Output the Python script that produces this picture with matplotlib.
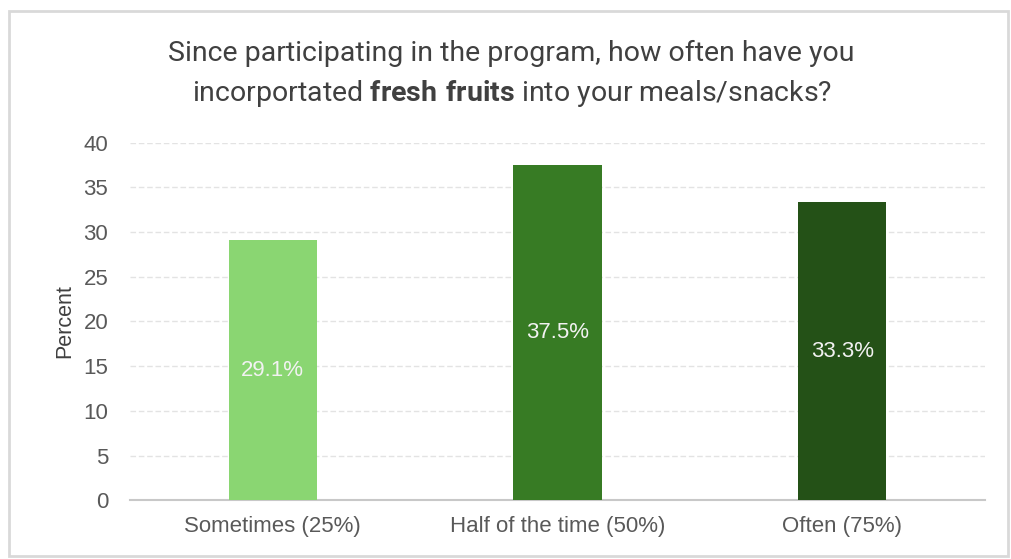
import matplotlib.pyplot as plt
from matplotlib.patches import Rectangle

categories = ['Sometimes (25%)', 'Half of the time (50%)', 'Often (75%)']
percent = [29.1, 37.5, 33.3]
bar_colors = ['#8ad672', '#377b24', '#245117']
yticks = [0, 5, 10, 15, 20, 25, 30, 35, 40]

plt.rcParams['font.family'] = ['Liberation Sans', 'DejaVu Sans']
plt.rcParams['mathtext.fontset'] = 'custom'
plt.rcParams['mathtext.rm'] = 'Roboto'
plt.rcParams['mathtext.bf'] = 'Roboto:bold'

fig = plt.figure(figsize=(10.11, 5.59), dpi=100, facecolor='w')

# thin grey frame round the whole chart
fig.patches.append(Rectangle((0.009, 0.005), 0.988, 0.975, transform=fig.transFigure,
                             fill=False, edgecolor='#d9d9d9', linewidth=2.0))

ax = fig.add_axes([0.129, 0.105, 0.845, 0.64])
x = range(len(categories))
ax.bar(x, percent, width=0.31, color=bar_colors, zorder=3)

for i, v in enumerate(percent):
    ax.text(i, v / 2, f'{v}%', ha='center', va='center', color='#f2f2f2',
            fontsize=16, zorder=4)

ax.set_xlim(-0.5, 2.5)
ax.set_ylim(0, 40)
ax.set_yticks(yticks)
ax.set_xticks(list(x))
ax.set_xticklabels(categories)
ax.tick_params(axis='both', length=0, labelsize=16, labelcolor='#595959')
ax.tick_params(axis='x', pad=11)
ax.tick_params(axis='y', pad=16)
ax.yaxis.grid(True, linestyle=(0, (4, 2)), color='#e3e3e3', linewidth=1.0, zorder=0)
ax.set_axisbelow(True)
for side in ['top', 'right', 'left']:
    ax.spines[side].set_visible(False)
ax.spines['bottom'].set_color('#c8c8c8')
ax.spines['bottom'].set_linewidth(1.5)
ax.set_ylabel('Percent', fontsize=15.5, color='#404040', labelpad=6)

title_kw = dict(ha='center', va='center', fontsize=20.5, color='#404040', family='Roboto')
fig.text(0.506, 0.905, 'Since participating in the program, how often have you', **title_kw)
fig.text(0.506, 0.833, r'incorportated $\mathbf{fresh\ fruits}$ into your meals/snacks?',
         **title_kw)

fig.savefig('out.png', dpi=100)
plt.close()
